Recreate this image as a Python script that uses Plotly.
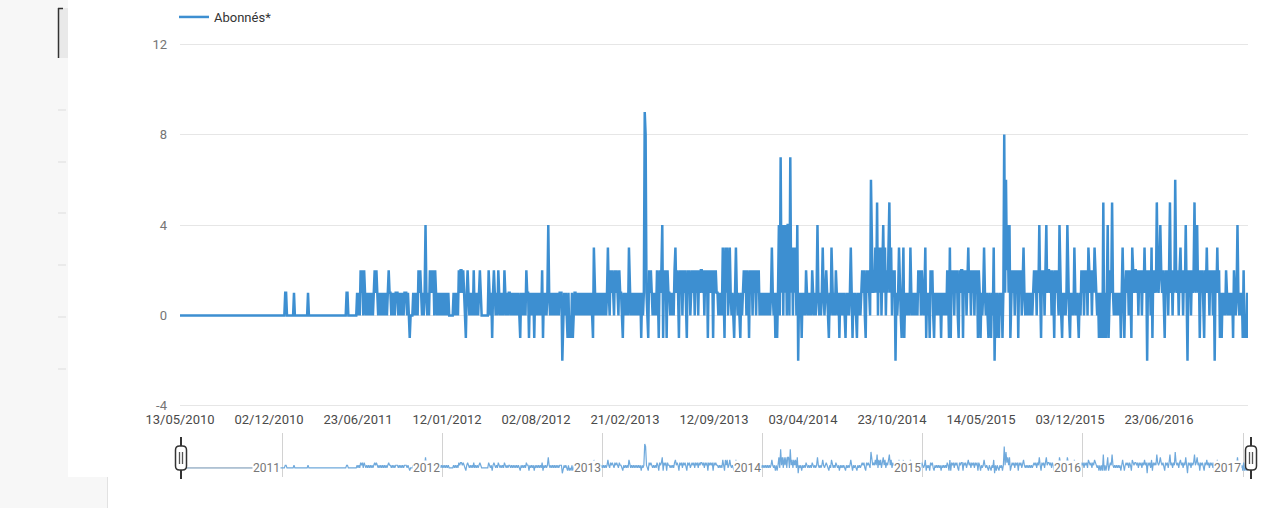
import pandas as pd
import plotly.graph_objects as go

# ---------------- data ----------------
START_DATE = "2010-05-13"
STEP_DAYS = 2
SERIES_NAME = "Abonnés*"

# one character per sample: '0'..'9' = value, 'a' = -1, 'b' = -2
seg01 = ("0000000000" "0000000000" "0000000000" "0000000000" "0000000000"
         "0000000000" "0000000000" "0000000000" "0000000000" "0000000000")
seg02 = ("00000000000000000000" "11" "00000000" "1" "000000000000000" "1"
         "0000000000" "0000000000" "0000000000" "0000000000" "000" "11" "0000000")
seg03 = ("000" "1010" "21202" "10101010101" "212" "101010101010" "121"
         "1010101110101010111010" "a" "000" "101010" "212" "1010" "141" "010"
         "212" "1" "202" "101010")
seg04 = ("1010101010" "0000" "101010" "212212" "10" "a" "1" "2" "101010" "2"
         "010101" "2" "10" "0000000" "2" "101" "a" "1" "2" "1010" "2" "101010"
         "2" "10101" "101010101010" "a" "101010" "2" "1")
seg05 = ("1" "a" "10101" "a" "10101010" "2" "a" "10101" "4" "1010101010101" "11"
         "b" "01010" "a1a0a1a01" "10101010101010101010" "a" "3" "101010101010101"
         "3" "10" "2121" "0")
seg06 = ("2121021" "10" "a" "101010" "3" "1010101010101" "a" "101" "98" "10" "a"
         "212" "101010" "21" "a" "212" "4" "a" "212" "a" "21" "101010" "2" "3"
         "121" "a" "21202120" "a" "2120121202120212")
seg07 = ("2120212" "a" "21212" "a" "2121" "101010" "3" "1" "a" "313013" "1010" "a"
         "1" "3" "1010" "a" "101" "212021" "a" "212021202120" "1010101010101" "3"
         "101" "a" "1" "a" "1" "40" "7" "14041404")
seg08 = ("40" "7" "1303130" "4" "b" "101" "a" "1010" "2" "101010" "2" "10101" "4"
         "10101" "3" "101" "2" "10" "a" "10" "3" "1010" "2" "101" "a" "101010" "a"
         "10101" "3" "1" "a" "1010" "a" "10101" "2120a212" "10" "6" "2121")
seg09 = ("3" "1" "5" "031302" "4" "130213" "5" "130212" "b" "101" "3" "10" "a" "1"
         "3" "a" "101010" "3" "10101010" "21202" "101" "3" "a" "101" "a" "2120" "a"
         "1010101" "a" "101010" "21" "a" "3" "a" "21202120" "a" "212")
seg10 = ("2" "a" "21202" "3" "1202120212" "a" "21" "a" "101" "3" "1010" "a" "10a10"
         "3" "b" "1a10" "a101a1" "8162414" "a1" "2120212a21202" "3" "10101010101"
         "212021" "4" "1" "a" "21202" "4" "12")
seg11 = ("212021" "a" "21210" "4" "10" "a" "10101" "4" "10" "a" "1010" "3" "1010"
         "a" "10" "21202120" "3" "212021" "3" "2101" "a1a1a" "5" "a1a1" "4" "a121"
         "5" "101010101" "a" "1" "3" "1" "a" "1212021" "a" "3" "212")
seg12 = ("2120212021" "3" "12" "b" "2120" "3" "a" "2121" "5" "212" "4" "2120" "a"
         "21202" "5" "12021" "6" "21202" "3" "12021" "4" "1" "b" "2120212" "5" "12"
         "4" "12" "a" "2120" "a" "21" "3" "12021202" "b" "21" "3" "12" "a1a")
seg13 = ("1010" "2" "1010101" "a" "2101" "4" "10101" "a" "2" "a0a1a")

segments = [seg01, seg02, seg03, seg04, seg05, seg06, seg07, seg08, seg09,
            seg10, seg11, seg12, seg13]

x_tick_dates = ["2010-05-13", "2010-12-02", "2011-06-23", "2012-01-12",
                "2012-08-02", "2013-02-21", "2013-09-12", "2014-04-03",
                "2014-10-23", "2015-05-14", "2015-12-03", "2016-06-23"]
x_tick_labels = ["13/05/2010", "02/12/2010", "23/06/2011", "12/01/2012",
                 "02/08/2012", "21/02/2013", "12/09/2013", "03/04/2014",
                 "23/10/2014", "14/05/2015", "03/12/2015", "23/06/2016"]
y_tick_vals = [-4, 0, 4, 8, 12]
y_tick_labels = ["-4", "0", "4", "8", "12"]
nav_year_dates = ["2011-01-01", "2012-01-01", "2013-01-01", "2014-01-01",
                  "2015-01-01", "2016-01-01", "2017-01-01"]
nav_year_labels = ["2011", "2012", "2013", "2014", "2015", "2016", "2017"]

# ---------------- build ----------------
CODE = {"a": -1, "b": -2}
values = [CODE[c] if c in CODE else int(c) for c in "".join(segments)]
dates = pd.date_range(START_DATE, periods=len(values), freq=f"{STEP_DAYS}D")

W, H = 1267, 508
L, R, T, B = 180, 1248, 43, 477   # plot-area pixel box
MAIN_BOTTOM = 407
NAV_TOP = 433


def px(x):
    return (x - L) / (R - L)


def py(y):
    return (B - y) / (B - T)


MAIN_COLOR = "#3d8fd1"
NAV_COLOR = "#6fa9dc"
FONT = "Roboto, Arial, sans-serif"

fig = go.Figure()
fig.add_trace(go.Scatter(x=dates, y=values, mode="lines", name=SERIES_NAME,
                         line=dict(color=MAIN_COLOR, width=2.5),
                         xaxis="x", yaxis="y"))
fig.add_trace(go.Scatter(x=dates, y=values, mode="lines", showlegend=False,
                         line=dict(color=NAV_COLOR, width=1.2),
                         xaxis="x2", yaxis="y2", hoverinfo="skip"))

shapes = []
# left grey side panel (part of the screenshot)
shapes.append(dict(type="rect", xref="paper", yref="paper", x0=px(0), x1=px(68),
                   y0=py(477), y1=py(0), fillcolor="#f7f7f7", line_width=0, layer="below"))
shapes.append(dict(type="rect", xref="paper", yref="paper", x0=px(0), x1=px(107),
                   y0=py(508), y1=py(477), fillcolor="#f7f7f7", line_width=0, layer="below"))
shapes.append(dict(type="line", xref="paper", yref="paper", x0=px(107.5), x1=px(107.5),
                   y0=py(508), y1=py(477), line=dict(color="#e2e2e2", width=1)))
shapes.append(dict(type="rect", xref="paper", yref="paper", x0=px(58), x1=px(68),
                   y0=py(58), y1=py(8), fillcolor="#e9e9e9", line_width=0, layer="below"))
shapes.append(dict(type="line", xref="paper", yref="paper", x0=px(58.5), x1=px(58.5),
                   y0=py(58), y1=py(8), line=dict(color="#333333", width=1.5)))
shapes.append(dict(type="line", xref="paper", yref="paper", x0=px(58), x1=px(63),
                   y0=py(8.5), y1=py(8.5), line=dict(color="#333333", width=1.5)))
for ty in [110, 162, 213, 265, 317, 369]:
    shapes.append(dict(type="line", xref="paper", yref="paper", x0=px(58), x1=px(66),
                       y0=py(ty), y1=py(ty), line=dict(color="#dddddd", width=1)))

# grey baseline of the navigator before the first year
shapes.append(dict(type="line", xref="x2", yref="y2", x0=dates[0], x1="2010-11-28",
                   y0=0, y1=0, line=dict(color="#c4c4c4", width=1), layer="above"))


def handle(cx):
    x0, x1, y0, y1, r = cx - 5.5, cx + 5.5, 446, 470, 4
    p = (f"M {px(x0 + r)},{py(y0)} L {px(x1 - r)},{py(y0)} "
         f"Q {px(x1)},{py(y0)} {px(x1)},{py(y0 + r)} L {px(x1)},{py(y1 - r)} "
         f"Q {px(x1)},{py(y1)} {px(x1 - r)},{py(y1)} L {px(x0 + r)},{py(y1)} "
         f"Q {px(x0)},{py(y1)} {px(x0)},{py(y1 - r)} L {px(x0)},{py(y0 + r)} "
         f"Q {px(x0)},{py(y0)} {px(x0 + r)},{py(y0)} Z")
    return [
        dict(type="line", xref="paper", yref="paper", x0=px(cx), x1=px(cx),
             y0=py(479), y1=py(437), line=dict(color="#333333", width=2), layer="above"),
        dict(type="path", xref="paper", yref="paper", path=p, fillcolor="white",
             line=dict(color="#333333", width=1.5), layer="above"),
        dict(type="line", xref="paper", yref="paper", x0=px(cx - 1.5), x1=px(cx - 1.5),
             y0=py(464), y1=py(452), line=dict(color="#555555", width=1.3), layer="above"),
        dict(type="line", xref="paper", yref="paper", x0=px(cx + 1.5), x1=px(cx + 1.5),
             y0=py(464), y1=py(452), line=dict(color="#555555", width=1.3), layer="above"),
    ]


shapes += handle(181)
shapes += handle(1251)

annotations = [dict(x=d, y=0, xref="x2", yref="y2", text=t, showarrow=False,
                    xanchor="right", yanchor="middle", xshift=-1, bgcolor="white",
                    borderpad=0, font=dict(family=FONT, size=12, color="#777777"))
               for d, t in zip(nav_year_dates, nav_year_labels)]

fig.update_layout(
    width=W, height=H,
    margin=dict(l=L, r=W - R, t=T, b=H - B, pad=0, autoexpand=False),
    paper_bgcolor="white", plot_bgcolor="white",
    font=dict(family=FONT, size=13, color="#555555"),
    showlegend=True,
    legend=dict(x=px(174), y=py(2), xanchor="left", yanchor="top",
                orientation="h", bgcolor="rgba(0,0,0,0)",
                font=dict(family=FONT, size=13, color="#333333")),
    hovermode=False,
    xaxis=dict(domain=[0, 1], anchor="y", range=[dates[0], dates[-1]],
               tickmode="array", tickvals=x_tick_dates, ticktext=x_tick_labels,
               showgrid=False, zeroline=False, showline=False, ticks="",
               ticklabelstandoff=3,
               tickfont=dict(family=FONT, size=13, color="#4a4a4a")),
    yaxis=dict(domain=[py(MAIN_BOTTOM), 1], anchor="x", range=[-4.05, 12.05],
               tickmode="array", tickvals=y_tick_vals, ticktext=y_tick_labels,
               showgrid=True, gridcolor="#e6e6e6", gridwidth=1, zeroline=False,
               showline=False, ticks="", ticklabelstandoff=12,
               tickfont=dict(family=FONT, size=13, color="#757575")),
    xaxis2=dict(domain=[0, 1], anchor="y2", range=[dates[0], dates[-1]],
                tickmode="array", tickvals=nav_year_dates, showticklabels=False,
                showgrid=True, gridcolor="#d2d2d2", gridwidth=1, zeroline=False,
                showline=False, ticks=""),
    yaxis2=dict(domain=[0, py(NAV_TOP)], anchor="x2", range=[-3.4, 13.1],
                showgrid=False, zeroline=False, showline=False,
                showticklabels=False, ticks=""),
    shapes=shapes,
    annotations=annotations,
)

fig.write_html("out.html", config={"displayModeBar": False},
               post_script="document.body.style.margin='0px';")
